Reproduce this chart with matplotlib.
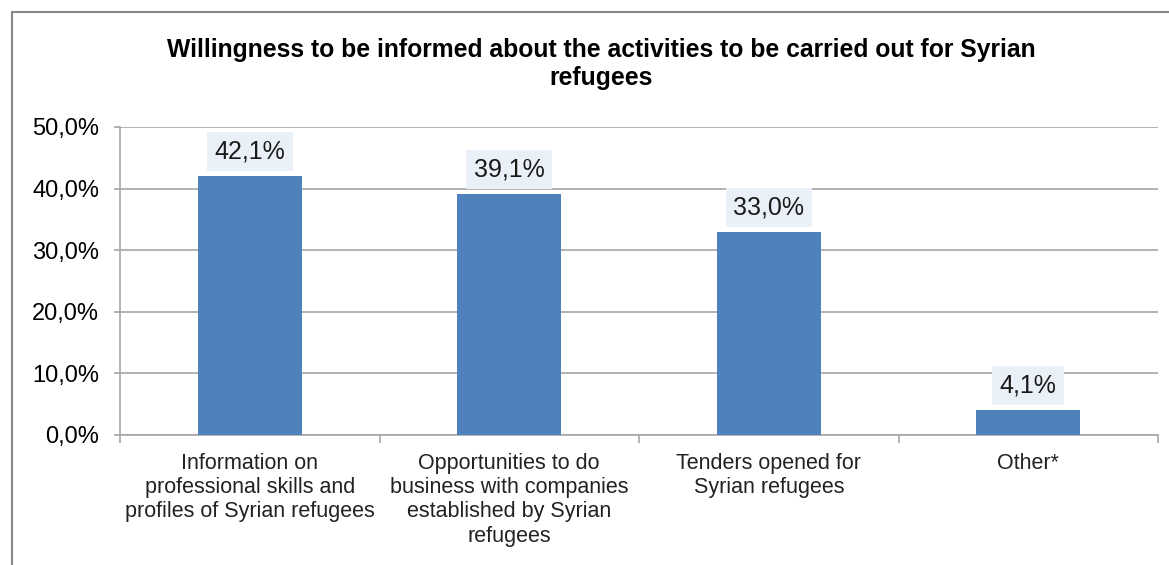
import matplotlib.pyplot as plt
from matplotlib.patches import Rectangle
from matplotlib.ticker import FuncFormatter, MultipleLocator, FixedLocator

categories = [
    "Information on\nprofessional skills and\nprofiles of Syrian refugees",
    "Opportunities to do\nbusiness with companies\nestablished by Syrian\nrefugees",
    "Tenders opened for\nSyrian refugees",
    "Other*",
]
values = [42.1, 39.1, 33.0, 4.1]
title = "Willingness to be informed about the activities to be carried out for Syrian\nrefugees"

plt.rcParams["font.family"] = ["Liberation Sans", "DejaVu Sans"]

fig = plt.figure(figsize=(11.69, 5.65), dpi=100)
ax = fig.add_axes([120 / 1169, 1 - 435 / 565, 1038 / 1169, 308 / 565])

# outer chart frame
fig.patches.append(Rectangle((12 / 1169, -0.05), 1.1, 1 - 12 / 565 + 0.05,
                             transform=fig.transFigure, fill=False,
                             edgecolor="#888888", linewidth=1.5, clip_on=False))

bar_color = "#4f81bd"
x = range(len(values))
ax.bar(x, values, width=0.4, color=bar_color, zorder=3)

for i, v in zip(x, values):
    ax.text(i, v + 2.0, f"{v:.1f}%".replace(".", ","), ha="center", va="bottom",
            fontsize=18, color="#1a1a1a", zorder=4,
            bbox=dict(boxstyle="square,pad=0.3", facecolor="#eaf0f7", edgecolor="none"))

ax.set_xlim(-0.5, len(values) - 0.5)
ax.set_ylim(0, 50)
ax.yaxis.set_major_locator(MultipleLocator(10))
ax.yaxis.set_major_formatter(FuncFormatter(lambda v, p: f"{v:.1f}%".replace(".", ",")))
ax.grid(axis="y", color="#a6a6a6", linewidth=1.2, zorder=0)
ax.set_axisbelow(True)

ax.set_xticks(list(x))
ax.set_xticklabels(categories, fontsize=15.5, color="#222222", linespacing=1.2)
ax.tick_params(axis="x", length=0, pad=13)
ax.xaxis.set_minor_locator(FixedLocator([i - 0.5 for i in range(len(values) + 1)]))
ax.tick_params(axis="x", which="minor", length=6, color="#a6a6a6", width=1.2)
ax.tick_params(axis="y", labelsize=17, length=4, color="#a6a6a6", width=1.2, pad=11)

for side in ["top", "right"]:
    ax.spines[side].set_visible(False)
for side in ["left", "bottom"]:
    ax.spines[side].set_color("#a6a6a6")
    ax.spines[side].set_linewidth(1.2)

fig.text(601 / 1169, 1 - 64 / 565, title, ha="center", va="center",
         fontsize=17.8, fontweight="bold", linespacing=1.2)

fig.savefig("out.png", dpi=100)
